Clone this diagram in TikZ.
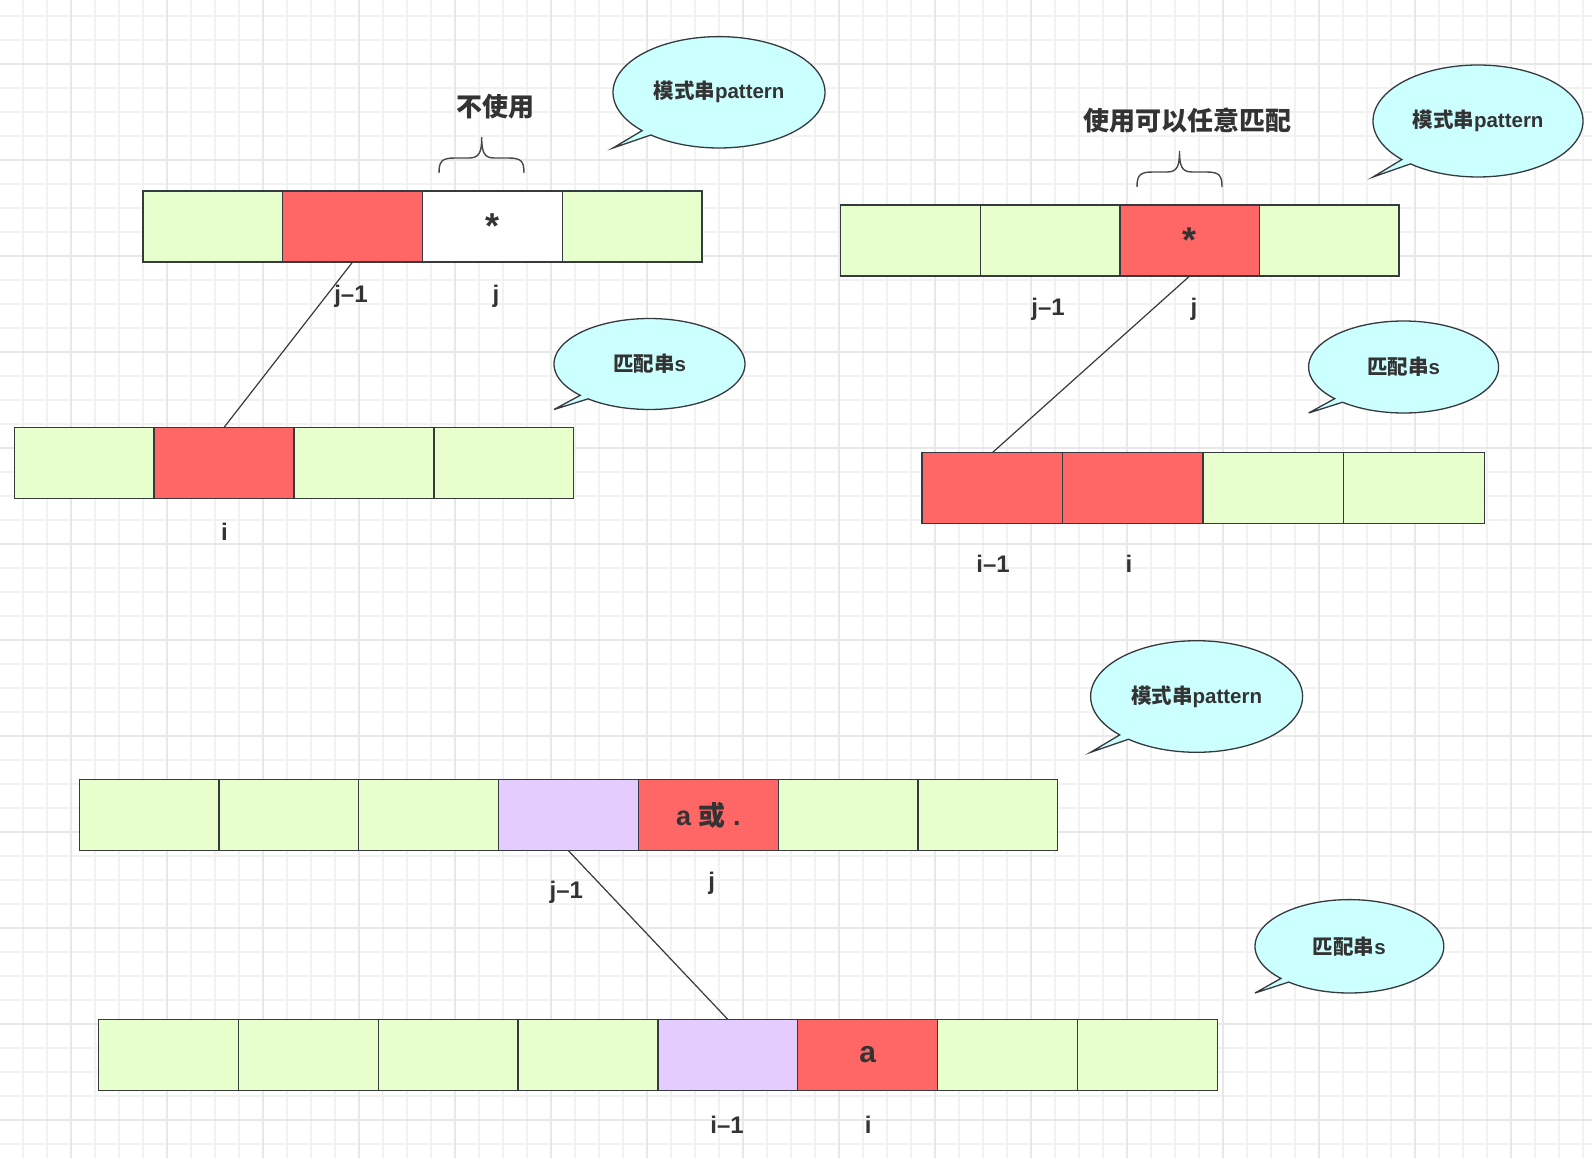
\documentclass[tikz,border=0pt]{standalone}
\usepackage{fontspec}
\setmainfont{Liberation Sans}
\newfontfamily\cjk{Noto Sans CJK SC}
\definecolor{cgreen}{HTML}{E6FFCC}
\definecolor{cred}{HTML}{FF6666}
\definecolor{cpurple}{HTML}{E5CCFF}
\definecolor{cbubble}{HTML}{CCFFFF}
\definecolor{cline}{HTML}{36393D}
\definecolor{ctext}{HTML}{333333}
\definecolor{gridminor}{HTML}{F2F2F2}
\definecolor{gridmajor}{HTML}{E8E8E8}
\newcommand\speechbubble[6]{%
  \draw[bubble] plot[domain=136.5:490, samples=120] ({#2+#4*cos(\x)},{#3+#5*sin(\x)}) -- ({#2-1.0*#4},{#3+1.0*#5}) -- cycle;
  \node[bubbletext] (#1) at (#2,#3) {#6};
}
\newcommand\startext{{\fontsize{36}{36}\selectfont\bfseries *}}
\tikzset{
  cellbox/.style={draw=cline, line width=1.3pt, minimum height=71pt, inner sep=0pt, outer sep=0pt, anchor=north west, text=ctext, font=\fontsize{27}{30}\selectfont\bfseries},
  lbl/.style={text=ctext, font=\fontsize{24}{28}\selectfont\bfseries, anchor=base, inner sep=0pt},
  conn/.style={draw=cline, line width=1.2pt},
  bubble/.style={draw=cline, line width=1.3pt, fill=cbubble},
  bubbletext/.style={text=ctext, font=\fontsize{20.5}{24}\selectfont\bfseries, inner sep=0pt},
  title/.style={text=ctext, font=\cjk\fontsize{26}{30}\selectfont\bfseries, inner sep=0pt},
  bracestyle/.style={draw=ctext!90, line width=1.4pt},
}
\begin{document}
\begin{tikzpicture}[x=1pt, y=-1pt]
\useasboundingbox (0,0) rectangle (1592,1158);
\fill[white] (0,0) rectangle (1592,1158);
% grid
\foreach \gx in {23,47,...,1591} \draw[gridminor, line width=1.3pt] (\gx,0) -- (\gx,1158);
\foreach \gy in {16,40,...,1158} \draw[gridminor, line width=1.3pt] (0,\gy) -- (1592,\gy);
\foreach \gx in {71,167,...,1591} \draw[gridmajor, line width=1.5pt] (\gx,0) -- (\gx,1158);
\foreach \gy in {64,160,...,1158} \draw[gridmajor, line width=1.5pt] (0,\gy) -- (1592,\gy);

% ---------- top left ----------
\foreach[count=\i] \c/\t in {cgreen/{},cred/{},white/{\startext},cgreen/{}}
  \node[cellbox, fill=\c, minimum width=139.75pt] (pa\i) at ({143+(\i-1)*139.75},191) {\t};
\foreach[count=\i] \c in {cgreen,cred,cgreen,cgreen}
  \node[cellbox, fill=\c, minimum width=139.9pt] (ma\i) at ({14.2+(\i-1)*139.9},427.4) {};
\node[lbl] (la1) at (351,302) {j–1};
\node[lbl] (la2) at (496,302) {j};
\node[lbl] (la3) at (224.5,540) {i};
\draw[conn] (pa2.south) -- (ma2.north);
\node[title] (ta) at (495.8,106.5) {不使用};
\draw[bracestyle] (439,173) .. controls (439,161) and (442,158) .. (455,158) -- (469,158)
  .. controls (479.5,158) and (481.7,152) .. (481.7,137)
  .. controls (481.7,152) and (484,158) .. (494,158) -- (508,158)
  .. controls (521,158) and (524,161) .. (524,173);
\speechbubble{ba}{719}{92.3}{106}{55.7}{{\cjk\bfseries 模式串}pattern}
\speechbubble{bb}{649.5}{364}{95.5}{45.5}{{\cjk\bfseries 匹配串}s}

% ---------- top right ----------
\foreach[count=\i] \c/\t in {cgreen/{},cgreen/{},cred/{\startext},cgreen/{}}
  \node[cellbox, fill=\c, minimum width=139.6pt] (pb\i) at ({840.7+(\i-1)*139.6},205) {\t};
\foreach[count=\i] \c in {cred,cred,cgreen,cgreen}
  \node[cellbox, fill=\c, minimum width=140.6pt] (mb\i) at ({921.9+(\i-1)*140.6},452.8) {};
\node[lbl] (lb1) at (1048,315.5) {j–1};
\node[lbl] (lb2) at (1194,315.5) {j};
\node[lbl] (lb3) at (993,572) {i–1};
\node[lbl] (lb4) at (1129,572) {i};
\draw[conn] (pb3.south) -- (mb1.north);
\node[title] (tb) at (1187,120.3) {使用可以任意匹配};
\draw[bracestyle] (1137,187) .. controls (1137,175) and (1140,172) .. (1153,172) -- (1167,172)
  .. controls (1177.3,172) and (1179.5,166) .. (1179.5,151)
  .. controls (1179.5,166) and (1181.7,172) .. (1192,172) -- (1206,172)
  .. controls (1219,172) and (1222,175) .. (1222,187);
\speechbubble{bc}{1478}{121}{105}{56}{{\cjk\bfseries 模式串}pattern}
\speechbubble{bd}{1403.6}{367}{95}{46}{{\cjk\bfseries 匹配串}s}

% ---------- bottom ----------
\foreach[count=\i] \c/\t in {cgreen/{},cgreen/{},cgreen/{},cpurple/{},cred/{a {\cjk\bfseries 或} .},cgreen/{},cgreen/{}}
  \node[cellbox, fill=\c, minimum width=139.8pt] (pc\i) at ({79.2+(\i-1)*139.8},779.8) {\t};
\foreach[count=\i] \c/\t in {cgreen/{},cgreen/{},cgreen/{},cgreen/{},cpurple/{},cred/{\fontsize{30}{32}\selectfont\bfseries a},cgreen/{},cgreen/{}}
  \node[cellbox, fill=\c, minimum width=139.85pt] (mc\i) at ({98.5+(\i-1)*139.85},1019.4) {\t};
\node[lbl] (lc1) at (566.3,898) {j–1};
\node[lbl] (lc2) at (711.7,889) {j};
\node[lbl] (lc3) at (727,1133) {i–1};
\node[lbl] (lc4) at (868.3,1133) {i};
\draw[conn] (pc4.south) -- (mc5.north);
\speechbubble{be}{1196.6}{696.5}{106}{55.8}{{\cjk\bfseries 模式串}pattern}
\speechbubble{bf}{1349.4}{946.3}{94.4}{46.7}{{\cjk\bfseries 匹配串}s}
\end{tikzpicture}
\end{document}
